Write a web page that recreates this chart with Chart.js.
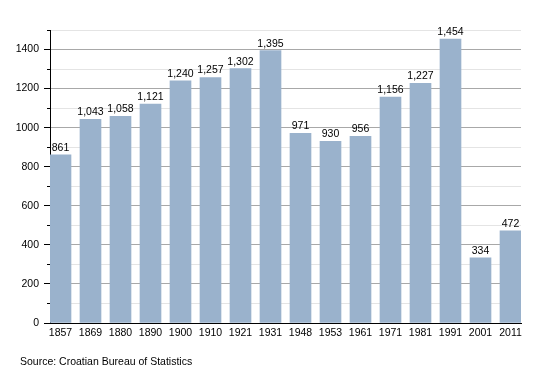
<!DOCTYPE html>
<html>
<head>
<meta charset="utf-8">
<script src="https://cdn.jsdelivr.net/npm/chart.js@4"></script>
<style>
  body { margin: 0; background: #fff; }
  #wrap { position: relative; width: 550px; height: 373px; }
  #source { position: absolute; left: 20px; top: 355px; font: 10.5px "Liberation Sans", Arial, sans-serif; color: #000; }
</style>
</head>
<body>
<div id="wrap">
  <canvas id="myChart" width="550" height="373"></canvas>
  <div id="source">Source: Croatian Bureau of Statistics</div>
</div>
<script>
// census years and population
const years = ['1857','1869','1880','1890','1900','1910','1921','1931','1948','1953','1961','1971','1981','1991','2001','2011']
const population = [861,1043,1058,1121,1240,1257,1302,1395,971,930,956,1156,1227,1454,334,472]
const yTicks = [0,200,400,600,800,1000,1200,1400]

const FONT = '"Liberation Sans", Arial, sans-serif'

// value labels over the bars + short minor ticks on y axis
const extras = {
  id: 'extras',
  afterDatasetsDraw(chart) {
    const c = chart.ctx
    const meta = chart.getDatasetMeta(0)
    c.save()
    c.font = '10.5px ' + FONT
    c.fillStyle = '#000'
    c.textAlign = 'center'
    c.textBaseline = 'alphabetic'
    meta.data.forEach((bar, i) => {
      c.fillText(population[i].toLocaleString('en-US'), bar.x, bar.y - 4)
    })
    const y = chart.scales.y
    c.strokeStyle = '#000'
    c.lineWidth = 1
    for (let v = 100; v <= 1500; v += 200) {
      const py = Math.round(y.getPixelForValue(v)) + 0.5
      c.beginPath()
      c.moveTo(y.right - 3, py)
      c.lineTo(y.right, py)
      c.stroke()
    }
    c.restore()
  }
}

const ctx = document.getElementById('myChart')
const myChart = new Chart(ctx, {
  type: 'bar',
  data: {
    datasets: [{
      data: population.map((v, i) => ({ x: i, y: v })),
      backgroundColor: '#9ab2cc',
      borderWidth: 0,
      barThickness: 21,
    }]
  },
  options: {
    responsive: false,
    animation: false,
    layout: { padding: { top: 30, right: 29, left: 0, bottom: 0 } },
    plugins: { legend: { display: false }, tooltip: { enabled: false } },
    scales: {
      x: {
        type: 'linear',
        offset: false,
        min: -0.35,
        max: 15.35,
        afterBuildTicks: s => { s.ticks = years.map((y, i) => ({ value: i })) },
        afterFit: s => { s.height = 50 },
        grid: { display: false, drawTicks: false },
        border: { color: '#000', width: 1 },
        ticks: {
          callback: v => years[v],
          color: '#000',
          font: { family: FONT, size: 10.5 },
          padding: 4,
          maxRotation: 0,
          autoSkip: false,
        }
      },
      y: {
        min: 0,
        max: 1500,
        afterFit: s => { s.width = 50 },
        afterBuildTicks: s => {
          const t = []
          for (let v = 0; v <= 1500; v += 100) t.push({ value: v })
          s.ticks = t
        },
        grid: {
          color: c => (c.tick && c.tick.value % 200 === 0) ? '#a8a8a8' : '#e4e4e4',
          tickColor: c => (c.tick && c.tick.value % 200 === 0) ? '#000' : 'rgba(0,0,0,0)',
          tickLength: 6,
        },
        border: { color: '#000', width: 1 },
        ticks: {
          callback: v => yTicks.includes(v) ? String(v) : '',
          color: '#000',
          font: { family: FONT, size: 10.5 },
          padding: 5,
        }
      }
    }
  },
  plugins: [extras]
})
</script>
</body>
</html>
